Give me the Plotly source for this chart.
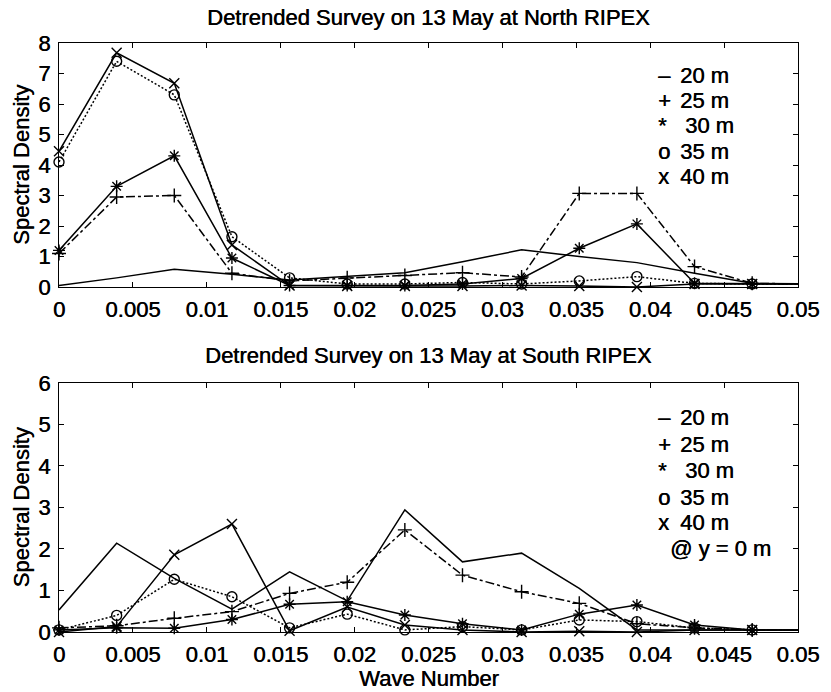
import plotly.graph_objects as go

# ---------------- data ----------------
wave_number = [0.0, 0.0039, 0.0078, 0.0117, 0.0156, 0.0195, 0.0234,
               0.0273, 0.0313, 0.0352, 0.0391, 0.0430, 0.0469, 0.0508]

depth_labels = ["20 m", "25 m", "30 m", "35 m", "40 m"]
legend_symbols = ["\u2013", "+", "*", "o", "x"]

north_20 = [0.05, 0.30, 0.58, 0.42, 0.23, 0.34, 0.47, 0.83, 1.22, 1.00, 0.80, 0.45, 0.12, 0.10]
north_25 = [1.10, 2.95, 3.00, 0.45, 0.20, 0.30, 0.38, 0.47, 0.33, 3.07, 3.07, 0.67, 0.12, 0.10]
north_30 = [1.20, 3.30, 4.30, 0.95, 0.05, 0.05, 0.05, 0.10, 0.28, 1.27, 2.07, 0.12, 0.10, 0.10]
north_35 = [4.10, 7.40, 6.30, 1.65, 0.30, 0.10, 0.10, 0.15, 0.10, 0.20, 0.34, 0.12, 0.10, 0.10]
north_40 = [4.45, 7.68, 6.68, 1.38, 0.05, 0.03, 0.03, 0.03, 0.05, 0.03, 0.00, 0.10, 0.10, 0.10]

south_20 = [0.53, 2.14, 1.29, 0.55, 1.45, 0.75, 2.94, 1.69, 1.90, 1.05, 0.05, 0.05, 0.05, 0.05]
south_25 = [0.10, 0.15, 0.33, 0.49, 0.93, 1.20, 2.46, 1.37, 0.97, 0.69, 0.20, 0.10, 0.05, 0.05]
south_30 = [0.05, 0.10, 0.09, 0.30, 0.67, 0.73, 0.41, 0.20, 0.05, 0.43, 0.65, 0.17, 0.05, 0.05]
south_35 = [0.05, 0.40, 1.27, 0.85, 0.10, 0.43, 0.05, 0.13, 0.05, 0.29, 0.25, 0.10, 0.05, 0.05]
south_40 = [0.00, 0.13, 1.86, 2.60, 0.03, 0.60, 0.17, 0.05, 0.00, 0.02, 0.00, 0.05, 0.05, 0.05]

x_ticks = [0, 0.005, 0.01, 0.015, 0.02, 0.025, 0.03, 0.035, 0.04, 0.045, 0.05]
x_tick_text = ["0", "0.005", "0.01", "0.015", "0.02", "0.025", "0.03", "0.035", "0.04", "0.045", "0.05"]
north_y_ticks = [0, 1, 2, 3, 4, 5, 6, 7, 8]
south_y_ticks = [0, 1, 2, 3, 4, 5, 6]

title_north = "Detrended Survey on 13 May at North RIPEX"
title_south = "Detrended Survey on 13 May at South RIPEX"
y_label = "Spectral Density"
x_label = "Wave Number"
south_note = "@ y = 0 m"

# ---------------- styles ----------------
FONT = "Liberation Sans, Arial, sans-serif"
FS = 22
SHADOW = "0.5px 0px 0px black"
styles = [
    dict(dash="solid", symbol=None),
    dict(dash="dashdot", symbol="cross-thin-open"),
    dict(dash="solid", symbol="asterisk-open"),
    dict(dash="2px,2px", symbol="circle-open"),
    dict(dash="solid", symbol="x-thin-open"),
]

fig = go.Figure()

def add_panel(series, xa, ya):
    for vals, st in zip(series, styles):
        fig.add_trace(go.Scatter(
            x=wave_number, y=vals, mode="lines", xaxis=xa, yaxis=ya,
            line=dict(color="black", width=1.5, dash=st["dash"]),
            cliponaxis=True, showlegend=False, hoverinfo="skip"))
        if st["symbol"]:
            fig.add_trace(go.Scatter(
                x=wave_number[:-1], y=vals[:-1], mode="markers", xaxis=xa, yaxis=ya,
                marker=dict(symbol=st["symbol"], size=10, color="black",
                            line=dict(color="black", width=1.4)),
                cliponaxis=False, showlegend=False, hoverinfo="skip"))

add_panel([north_20, north_25, north_30, north_35, north_40], "x", "y")
add_panel([south_20, south_25, south_30, south_35, south_40], "x2", "y2")

axis_common = dict(showline=True, linecolor="black", linewidth=1.2, mirror="ticks",
                   ticks="inside", ticklen=5, tickcolor="black", tickwidth=1.2,
                   showgrid=False, zeroline=False,
                   tickfont=dict(family=FONT, size=FS, color="black", shadow=SHADOW))

top_dom = [0.5857, 1.0]
bot_dom = [0.0, 0.4228]

fig.update_layout(
    width=831, height=692,
    margin=dict(l=59, r=25, t=43, b=60),
    paper_bgcolor="white", plot_bgcolor="white",
    font=dict(family=FONT, size=FS, color="black", shadow=SHADOW),
    xaxis=dict(domain=[0, 1], range=[0, 0.05], anchor="y",
               tickvals=x_ticks, ticktext=x_tick_text, ticklabelstandoff=2, **axis_common),
    yaxis=dict(domain=top_dom, range=[0, 8], anchor="x",
               tickvals=north_y_ticks, ticklabelstandoff=3, **axis_common),
    xaxis2=dict(domain=[0, 1], range=[0, 0.05], anchor="y2",
                tickvals=x_ticks, ticktext=x_tick_text, ticklabelstandoff=2, **axis_common),
    yaxis2=dict(domain=bot_dom, range=[0, 6], anchor="x2",
                tickvals=south_y_ticks, ticklabelstandoff=3, **axis_common),
)

ann = []
ann.append(dict(text=title_north, xref="paper", yref="paper", x=0.5, y=top_dom[1],
                xanchor="center", yanchor="middle", yshift=26, showarrow=False))
ann.append(dict(text=title_south, xref="paper", yref="paper", x=0.5, y=bot_dom[1],
                xanchor="center", yanchor="middle", yshift=27, showarrow=False))
for dom in (top_dom, bot_dom):
    ann.append(dict(text=y_label, xref="paper", yref="paper", x=0, y=(dom[0] + dom[1]) / 2,
                    xanchor="center", yanchor="middle", xshift=-38, textangle=-90,
                    showarrow=False))
ann.append(dict(text=x_label, xref="paper", yref="paper", x=0.5, y=0,
                xanchor="center", yanchor="middle", yshift=-46, showarrow=False))

north_leg_y = [6.95, 6.13, 5.31, 4.43, 3.61]
south_leg_y = [5.16, 4.51, 3.90, 3.25, 2.63]
for sym, lab, yn, ys in zip(legend_symbols, depth_labels, north_leg_y, south_leg_y):
    tx = 0.0422 if sym == "*" else 0.0419
    for xr, yr, yy in (("x", "y", yn), ("x2", "y2", ys)):
        ann.append(dict(text=sym, xref=xr, yref=yr, x=0.0404, y=yy, xanchor="left",
                        yanchor="middle", showarrow=False))
        ann.append(dict(text=lab, xref=xr, yref=yr, x=tx, y=yy, xanchor="left",
                        yanchor="middle", showarrow=False))
ann.append(dict(text=south_note, xref="x2", yref="y2", x=0.0412, y=2.02, xanchor="left",
                yanchor="middle", showarrow=False))

fig.update_layout(annotations=ann)
fig.write_html("out.html", config={"displayModeBar": False},
               post_script="document.body.style.margin='0px';")
